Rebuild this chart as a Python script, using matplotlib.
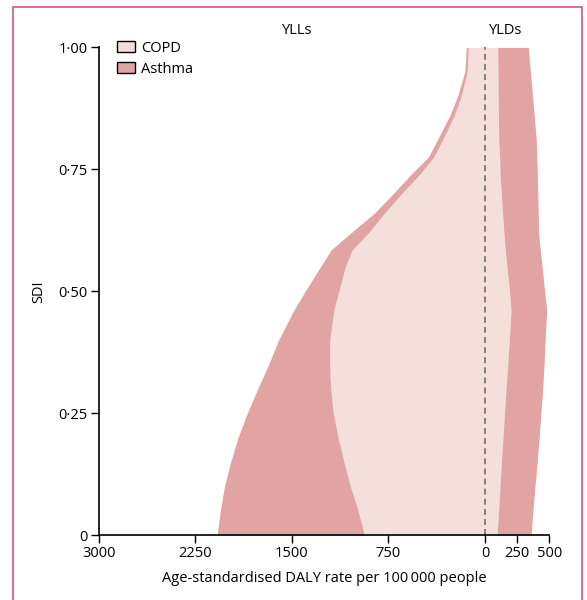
import numpy as np
import matplotlib
matplotlib.use("Agg")
import matplotlib.pyplot as plt
from matplotlib.patches import Patch, Rectangle
import matplotlib.transforms as mtransforms

plt.rcParams['font.family'] = ['Open Sans', 'DejaVu Sans']

# SDI levels the bands are read at
sdi = [0, 0.05, 0.1, 0.15, 0.2, 0.25, 0.3, 0.35, 0.4, 0.46, 0.5, 0.55, 0.585,
       0.62, 0.66, 0.7, 0.74, 0.775, 0.81, 0.86, 0.9, 0.95, 1.0]

# YLL rates (drawn to the left), per 100 000
copd_yll = [936, 985, 1045, 1095, 1140, 1178, 1198, 1207, 1205, 1175, 1135, 1085, 1030,
            905, 781, 648, 507, 400, 330, 239, 185, 138, 130]
asthma_yll = [1144, 1070, 978, 880, 778, 668, 567, 473, 398, 312, 262, 193, 165,
              135, 79, 65, 66, 40, 41, 35, 28, 19, 15]

# YLD rates (drawn to the right), per 100 000
copd_yld = [93, 105, 116, 127, 139, 151, 163, 176, 188, 202, 190, 170, 157,
            146, 136, 126, 117, 113, 106, 104, 102, 100, 98]
asthma_yld = [264, 267, 272, 278, 281, 283, 285, 282, 279, 277, 273, 273, 272,
              270, 277, 284, 289, 289, 292, 278, 267, 252, 238]

xticks = [-3000, -2250, -1500, -750, 0, 250, 500]
xticklabels = ['3000', '2250', '1500', '750', '0', '250', '500']
yticks = [0, 0.25, 0.5, 0.75, 1.0]
yticklabels = ['0', '0\u00b725', '0\u00b750', '0\u00b775', '1\u00b700']

copd_col = '#f5dfdb'
asthma_col = '#e1a4a2'

sdi = np.array(sdi)
copd_yll = np.array(copd_yll)
asthma_yll = np.array(asthma_yll)
copd_yld = np.array(copd_yld)
asthma_yld = np.array(asthma_yld)

fig = plt.figure(figsize=(5.87, 6.0), dpi=100)
ax = fig.add_axes([0.168, 0.108, 0.768, 0.813])

ax.fill_betweenx(sdi, -copd_yll, copd_yld, color=copd_col, lw=0)
ax.fill_betweenx(sdi, -(copd_yll + asthma_yll), -copd_yll, color=asthma_col, lw=0)
ax.fill_betweenx(sdi, copd_yld, copd_yld + asthma_yld, color=asthma_col, lw=0)

ax.axvline(0, color='#7a8088', lw=1.4, ls=(0, (3, 2.2)))

ax.set_xlim(-3000, 500)
ax.set_ylim(0, 1)
ax.set_xticks(xticks)
ax.set_xticklabels(xticklabels)
ax.set_yticks(yticks)
ax.set_yticklabels(yticklabels)
ax.tick_params(direction='out', length=6, width=1, labelsize=10.5, colors='black', pad=2)
for s in ['top', 'right']:
    ax.spines[s].set_visible(False)
for s in ['left', 'bottom']:
    ax.spines[s].set_linewidth(1.2)

ax.set_xlabel('Age-standardised DALY rate per 100\u2009000 people', fontsize=10.5, labelpad=7)
ax.set_ylabel('SDI', fontsize=10.5, labelpad=9)

trans = mtransforms.blended_transform_factory(ax.transData, ax.transAxes)
ax.text(-1455, 1.035, 'YLLs', transform=trans, ha='center', va='center', fontsize=10.5)
ax.text(158, 1.035, 'YLDs', transform=trans, ha='center', va='center', fontsize=10.5)

handles = [Patch(facecolor=copd_col, edgecolor='black', lw=1, label='COPD'),
           Patch(facecolor=asthma_col, edgecolor='black', lw=1, label='Asthma')]
ax.legend(handles=handles, loc='upper left', bbox_to_anchor=(0.04, 1.014), frameon=False,
          fontsize=10.5, handlelength=1.25, handleheight=0.8, handletextpad=0.4,
          labelspacing=0.42, borderaxespad=0, borderpad=0)

fig.patches.append(Rectangle((13 / 587, -0.05), 569 / 587, 1.05 - 7 / 600,
                             transform=fig.transFigure, fill=False,
                             edgecolor='#d4587e', lw=1.2))

fig.savefig('out.png', dpi=100)
